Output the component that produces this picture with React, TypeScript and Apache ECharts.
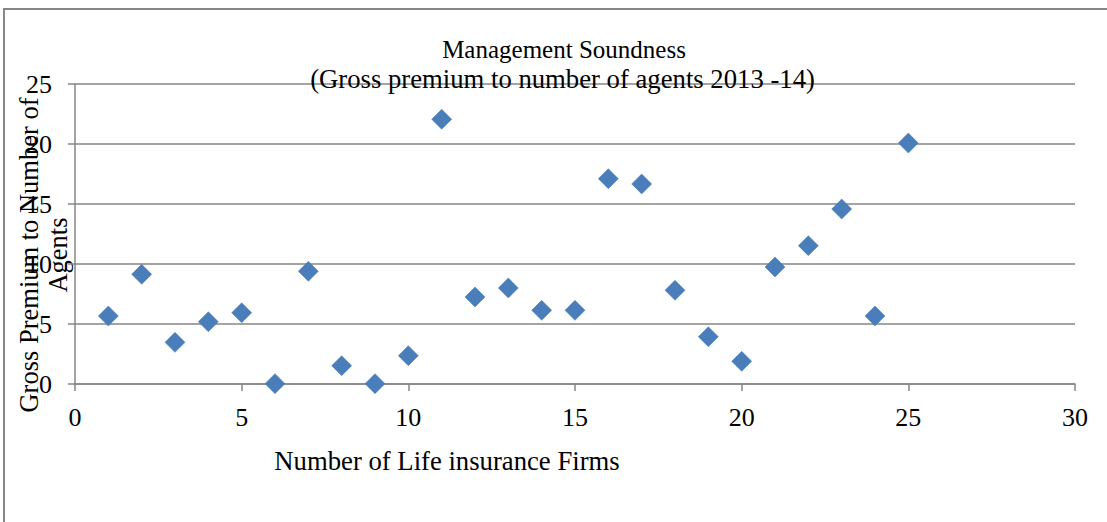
import React, { useEffect, useRef } from "react";
import * as echarts from "echarts";

const firms = [1, 2, 3, 4, 5, 6, 7, 8, 9, 10, 11, 12, 13, 14, 15, 16, 17, 18, 19, 20, 21, 22, 23, 24, 25];
const ratios = [5.67, 9.14, 3.47, 5.19, 5.94, 0.03, 9.39, 1.53, 0.03, 2.36, 22.06, 7.25, 8.0, 6.14, 6.14, 17.11, 16.67, 7.81, 3.94, 1.89, 9.75, 11.53, 14.58, 5.67, 20.08];
const titleMain = "Management Soundness";
const titleSub = "(Gross premium to number of agents 2013 -14)";
const xName = "Number of Life insurance Firms";
const yNameLines = ["Gross Premium to Number of", "Agents"];

const FONT = '"Liberation Serif", "Times New Roman", serif';

export default function App() {
  const ref = useRef<HTMLDivElement>(null);
  useEffect(() => {
    if (!ref.current) return;
    const chart = echarts.init(ref.current, undefined, { renderer: "svg" });
    const gray = "#868686";
    chart.setOption({
      animation: false,
      backgroundColor: "#ffffff",
      textStyle: { fontFamily: FONT },
      title: {
        text: `{a|${titleMain}}\n{b|${titleSub}}`,
        left: 561,
        textAlign: "center",
        top: 30,
        textStyle: {
          fontFamily: FONT,
          fontWeight: "normal",
          color: "#000",
          rich: {
            a: { fontFamily: FONT, fontSize: 25, lineHeight: 29, color: "#000", align: "center", padding: [0, 4, 0, 0] },
            b: { fontFamily: FONT, fontSize: 26.7, lineHeight: 29, color: "#000", align: "center", padding: [0, 7, 0, 0] },
          },
        },
      },
      grid: { left: 75, right: 32, top: 84, bottom: 138, containLabel: false },
      xAxis: {
        type: "value",
        min: 0,
        max: 30,
        interval: 5,
        axisLine: { show: true, lineStyle: { color: gray, width: 1.5 } },
        axisTick: { show: true, inside: false, length: 7, lineStyle: { color: gray, width: 1.5 } },
        axisLabel: { margin: 20, fontFamily: FONT, fontSize: 26, color: "#000" },
        splitLine: { show: false },
      },
      yAxis: {
        type: "value",
        min: 0,
        max: 25,
        interval: 5,
        axisLine: { show: true, lineStyle: { color: gray, width: 1.5 } },
        axisTick: { show: true, inside: false, length: 7, lineStyle: { color: gray, width: 1.5 } },
        axisLabel: { margin: 23, fontFamily: FONT, fontSize: 26, color: "#000" },
        splitLine: { show: true, lineStyle: { color: gray, width: 1.5 } },
      },
      series: [
        {
          type: "scatter",
          symbol: "diamond",
          symbolSize: 20,
          itemStyle: { color: "#4A7EBB", opacity: 1, borderColor: "#4578B5", borderWidth: 0.5 },
          data: firms.map((f, i) => [f, ratios[i]]),
        },
      ],
      graphic: [
        {
          type: "rect",
          shape: { x: 4, y: 9, width: 1300, height: 700 },
          style: { fill: "none", stroke: gray, lineWidth: 2 },
          silent: true,
          z: -1,
        },
        {
          type: "text",
          x: 447,
          y: 461,
          style: { text: xName, font: `26.7px ${FONT}`, fill: "#000", textAlign: "center", textVerticalAlign: "middle" },
        },
        {
          type: "text",
          x: 43,
          y: 255,
          rotation: Math.PI / 2,
          style: {
            text: yNameLines.join("\n"),
            font: `26.5px ${FONT}`,
            lineHeight: 29,
            fill: "#000",
            textAlign: "center",
            textVerticalAlign: "middle",
          },
        },
      ],
    });
    return () => chart.dispose();
  }, []);
  return <div ref={ref} style={{ position: "fixed", left: 0, top: 0, width: 1107, height: 522 }} />;
}
